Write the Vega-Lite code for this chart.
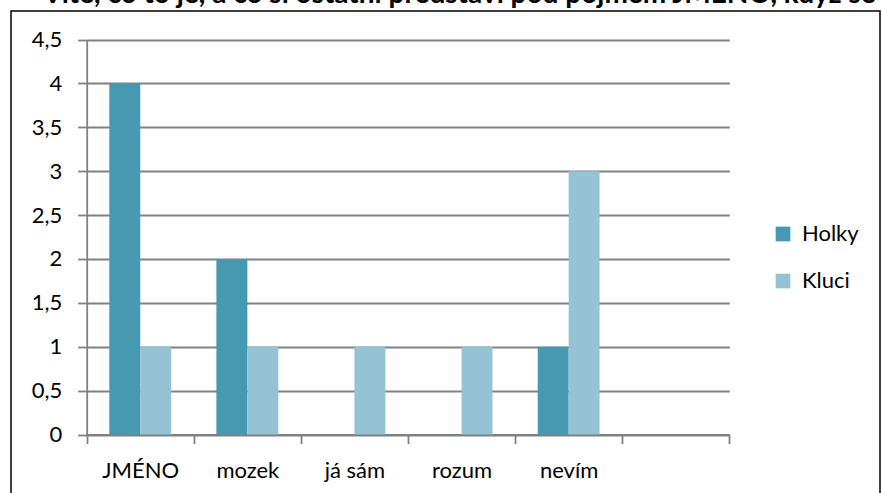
{
  "$schema": "https://vega.github.io/schema/vega-lite/v6.json",
  "width": 869,
  "height": 484,
  "autosize": {"type": "none"},
  "padding": {"left": 11, "top": 11, "right": 2, "bottom": -2},
  "background": "white",
  "title": {
    "text": "Víte, co to je, a co si ostatní představí pod pojmem JMÉNO, když se řekne, co je to vlastně za slovo?",
    "anchor": "start",
    "frame": "group",
    "baseline": "alphabetic",
    "offset": 0,
    "dx": 32,
    "dy": 20,
    "font": "Lato",
    "fontSize": 28,
    "fontWeight": "bold",
    "color": "black"
  },
  "config": {
    "view": {"stroke": "black", "strokeWidth": 1.5},
    "font": "Lato"
  },
  "data": {
    "values": [
      {"pojem": "JMÉNO", "skupina": "Holky", "pocet": 4},
      {"pojem": "JMÉNO", "skupina": "Kluci", "pocet": 1},
      {"pojem": "mozek", "skupina": "Holky", "pocet": 2},
      {"pojem": "mozek", "skupina": "Kluci", "pocet": 1},
      {"pojem": "já sám", "skupina": "Holky", "pocet": 0},
      {"pojem": "já sám", "skupina": "Kluci", "pocet": 1},
      {"pojem": "rozum", "skupina": "Holky", "pocet": 0},
      {"pojem": "rozum", "skupina": "Kluci", "pocet": 1},
      {"pojem": "nevím", "skupina": "Holky", "pocet": 1},
      {"pojem": "nevím", "skupina": "Kluci", "pocet": 3}
    ]
  },
  "mark": {"type": "bar"},
  "encoding": {
    "x": {
      "field": "pojem",
      "type": "nominal",
      "sort": null,
      "scale": {
        "domain": ["JMÉNO", "mozek", "já sám", "rozum", "nevím", " "],
        "range": [75.7, 718.3],
        "paddingInner": 0,
        "paddingOuter": 0
      },
      "axis": {
        "title": null,
        "tickBand": "extent",
        "offset": -60.5,
        "grid": false,
        "labelAngle": 0,
        "domainColor": "#808080",
        "domainWidth": 1.8,
        "tickColor": "#808080",
        "tickWidth": 1.8,
        "tickSize": 9,
        "labelPadding": 16.5,
        "labelFont": "Lato",
        "labelFontSize": 22,
        "labelColor": "black"
      }
    },
    "xOffset": {
      "field": "skupina",
      "scale": {"domain": ["Holky", "Kluci"], "paddingInner": 0, "paddingOuter": 0.73}
    },
    "y": {
      "field": "pocet",
      "type": "quantitative",
      "scale": {"domain": [0, 4.5], "range": [423.5, 28.5], "nice": false, "zero": true},
      "axis": {
        "title": null,
        "values": [0, 0.5, 1, 1.5, 2, 2.5, 3, 3.5, 4, 4.5],
        "labelExpr": "replace(toString(datum.value), '.', ',')",
        "offset": -75.7,
        "domainColor": "#808080",
        "domainWidth": 1.8,
        "tickColor": "#808080",
        "tickWidth": 1.8,
        "tickSize": 9,
        "gridColor": "#808080",
        "gridWidth": 1.8,
        "labelPadding": 16,
        "labelFont": "Lato",
        "labelFontSize": 22,
        "labelColor": "black"
      }
    },
    "color": {
      "field": "skupina",
      "type": "nominal",
      "scale": {"domain": ["Holky", "Kluci"], "range": ["#4599B1", "#93C3D5"]},
      "legend": {
        "title": null,
        "orient": "none",
        "legendX": 761,
        "legendY": 212,
        "symbolType": "square",
        "symbolSize": 216,
        "symbolStrokeWidth": 0,
        "symbolOpacity": 1,
        "labelFont": "Lato",
        "labelFontSize": 22,
        "labelColor": "black",
        "labelOffset": 8,
        "rowPadding": 25,
        "padding": 0
      }
    }
  }
}
